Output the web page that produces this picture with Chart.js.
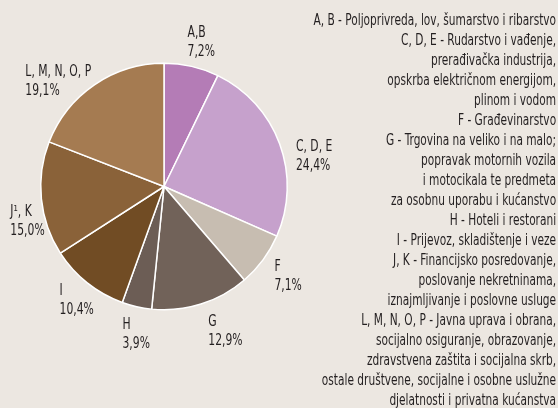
<!DOCTYPE html>
<html lang="hr">
<head>
    <meta charset="UTF-8">
    <title>Struktura po djelatnostima</title>
    <script src="https://cdn.jsdelivr.net/npm/chart.js"></script>
    <style>
        html, body { margin: 0; padding: 0; background: #ece7e1; }
        body { width: 558px; height: 408px; position: relative; overflow: hidden;
               font-family: "Liberation Sans Narrow", "DejaVu Sans Condensed", sans-serif; color: #231f20; }
        #pie { position: absolute; left: 0; top: 0; }
        #legend { position: absolute; right: 2px; top: 10px; text-align: right; font-size: 15px; line-height: 20px;
                  white-space: nowrap; transform: scaleX(0.785); transform-origin: right top; }
    </style>
</head>
<body>
    <canvas id="pie" width="558" height="408"></canvas>
    <div id="legend"></div>

    <script>
        const labels = ['A,B', 'C, D, E', 'F', 'G', 'H', 'I', 'J¹, K', 'L, M, N, O, P'];
        const shares = [7.2, 24.4, 7.1, 12.9, 3.9, 10.4, 15.0, 19.1];
        const colors = ['#b47cb6', '#c6a1cc', '#c7bdb1', '#716259', '#6c5d55', '#714c24', '#8a6239', '#a57b51'];
        const legendLines = [
            'A, B - Poljoprivreda, lov, šumarstvo i ribarstvo',
            'C, D, E - Rudarstvo i vađenje,',
            'prerađivačka industrija,',
            'opskrba električnom energijom,',
            'plinom i vodom',
            'F - Građevinarstvo',
            'G - Trgovina na veliko i na malo;',
            'popravak motornih vozila',
            'i motocikala te predmeta',
            'za osobnu uporabu i kućanstvo',
            'H - Hoteli i restorani',
            'I - Prijevoz, skladištenje i veze',
            'J, K - Financijsko posredovanje,',
            'poslovanje nekretninama,',
            'iznajmljivanje i poslovne usluge',
            'L, M, N, O, P - Javna uprava i obrana,',
            'socijalno osiguranje, obrazovanje,',
            'zdravstvena zaštita i socijalna skrb,',
            'ostale društvene, socijalne i osobne uslužne',
            'djelatnosti i privatna kućanstva'
        ];

        document.getElementById('legend').innerHTML = legendLines.map(l => '<div>' + l + '</div>').join('');

        function fmt(v) { return v.toFixed(1).replace('.', ',') + '%'; }

        // hand tuned shifts of each label block from its mid-angle anchor
        const labelNudge = [[4, 1], [11, 21], [5, 2], [17, 4], [5, 4], [5, -2], [11, 20], [-22, 17]];
        const squeeze = 0.8;

        const outsideLabels = {
            id: 'outsideLabels',
            afterDatasetsDraw(chart) {
                const ctx = chart.ctx;
                const meta = chart.getDatasetMeta(0);
                ctx.save();
                ctx.font = '15px "Liberation Sans Narrow", "DejaVu Sans Condensed", sans-serif';
                ctx.fillStyle = '#231f20';
                ctx.textBaseline = 'middle';
                ctx.textAlign = 'left';
                meta.data.forEach((arc, i) => {
                    const p = arc.getProps(['x', 'y', 'startAngle', 'endAngle', 'outerRadius'], true);
                    const mid = (p.startAngle + p.endAngle) / 2;
                    const d = p.outerRadius + 25;
                    const lines = [labels[i], fmt(shares[i])];
                    const w = Math.max(...lines.map(t => ctx.measureText(t).width)) * squeeze;
                    const cx = p.x + Math.cos(mid) * d + labelNudge[i][0];
                    const cy = p.y + Math.sin(mid) * d + labelNudge[i][1];
                    lines.forEach((t, k) => {
                        ctx.save();
                        ctx.translate(cx - w / 2, cy - 9.5 + k * 19);
                        ctx.scale(squeeze, 1);
                        ctx.fillText(t, 0, 0);
                        ctx.restore();
                    });
                });
                ctx.restore();
            }
        };

        new Chart(document.getElementById('pie'), {
            type: 'pie',
            data: {
                labels: labels,
                datasets: [{
                    data: shares,
                    backgroundColor: colors,
                    borderColor: '#ffffff',
                    borderWidth: 1.5
                }]
            },
            options: {
                responsive: false,
                animation: false,
                layout: { padding: { left: 40, top: 62, right: 270, bottom: 97 } },
                plugins: { legend: { display: false }, tooltip: { enabled: false } }
            },
            plugins: [outsideLabels]
        });
    </script>
</body>
</html>
